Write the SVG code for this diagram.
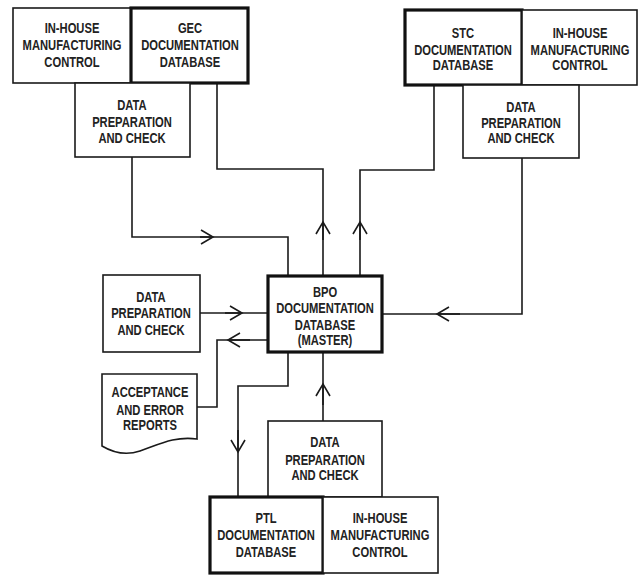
<svg xmlns="http://www.w3.org/2000/svg" width="639" height="575" viewBox="0 0 639 575">
<style>
.box{fill:#fff;stroke:#1a1a1a;stroke-width:1.6}
.thick{fill:#fff;stroke:#111;stroke-width:3.2}
.ln{fill:none;stroke:#1a1a1a;stroke-width:1.6}
text{font-family:"Liberation Sans",Arial,sans-serif;font-size:14px;font-weight:bold;fill:#222;text-anchor:middle}
</style>
<defs>
<marker id="arr" markerUnits="userSpaceOnUse" markerWidth="20" markerHeight="20" refX="0" refY="0" viewBox="-14 -10 16 20" orient="auto" overflow="visible">
<path d="M-12,-7 L0,0 L-12,7" fill="none" stroke="#1a1a1a" stroke-width="1.6"/>
</marker>
</defs>
<rect width="639" height="575" fill="#fff"/>
<g id="connectors">
<path class="ln" d="M132,157 V237 H288 V276"/>
<path class="ln" d="M200,237 H213" marker-end="url(#arr)"/>
<path class="ln" d="M323,276 V169 H217 V83"/>
<path class="ln" d="M323,240 V222" marker-end="url(#arr)"/>
<path class="ln" d="M360,276 V170 H434 V85"/>
<path class="ln" d="M360,240 V222" marker-end="url(#arr)"/>
<path class="ln" d="M522,158 V314 H383"/>
<path class="ln" d="M460,314 H437" marker-end="url(#arr)"/>
<path class="ln" d="M200,313 H268"/>
<path class="ln" d="M225,313 H242" marker-end="url(#arr)"/>
<path class="ln" d="M268,340 H217 V407 H197"/>
<path class="ln" d="M250,340 H228" marker-end="url(#arr)"/>
<path class="ln" d="M288,352 V386 H238 V497"/>
<path class="ln" d="M238,430 V452" marker-end="url(#arr)"/>
<path class="ln" d="M323,421 V352"/>
<path class="ln" d="M323,405 V384" marker-end="url(#arr)"/>
</g>
<g id="inhouse-tl">
<rect class="box" x="13" y="8" width="118" height="75"/>
<g transform="translate(72 0) scale(0.8 1)">
<text x="0" y="33">IN-HOUSE</text>
<text x="0" y="50">MANUFACTURING</text>
<text x="0" y="67">CONTROL</text>
</g>
</g>
<g id="gec">
<rect class="thick" x="131" y="8" width="117" height="75"/>
<g transform="translate(190 0) scale(0.8 1)">
<text x="0" y="33">GEC</text>
<text x="0" y="50">DOCUMENTATION</text>
<text x="0" y="67">DATABASE</text>
</g>
</g>
<g id="dpc-tl">
<rect class="box" x="75" y="83" width="115" height="74"/>
<g transform="translate(132 0) scale(0.8 1)">
<text x="0" y="110">DATA</text>
<text x="0" y="127">PREPARATION</text>
<text x="0" y="143">AND CHECK</text>
</g>
</g>
<g id="stc">
<rect class="thick" x="405" y="10" width="117" height="75"/>
<g transform="translate(463 0) scale(0.8 1)">
<text x="0" y="38">STC</text>
<text x="0" y="55">DOCUMENTATION</text>
<text x="0" y="70">DATABASE</text>
</g>
</g>
<g id="inhouse-tr">
<rect class="box" x="522" y="10" width="115" height="75"/>
<g transform="translate(580 0) scale(0.8 1)">
<text x="0" y="38">IN-HOUSE</text>
<text x="0" y="55">MANUFACTURING</text>
<text x="0" y="70">CONTROL</text>
</g>
</g>
<g id="dpc-tr">
<rect class="box" x="463" y="85" width="116" height="73"/>
<g transform="translate(521 0) scale(0.8 1)">
<text x="0" y="112">DATA</text>
<text x="0" y="128">PREPARATION</text>
<text x="0" y="143">AND CHECK</text>
</g>
</g>
<g id="bpo">
<rect class="thick" x="268" y="276" width="114" height="76"/>
<g transform="translate(325 0) scale(0.8 1)">
<text x="0" y="297">BPO</text>
<text x="0" y="313">DOCUMENTATION</text>
<text x="0" y="330">DATABASE</text>
<text x="0" y="345">(MASTER)</text>
</g>
</g>
<g id="dpc-left">
<rect class="box" x="103" y="275" width="97" height="77"/>
<g transform="translate(151 0) scale(0.8 1)">
<text x="0" y="302">DATA</text>
<text x="0" y="318">PREPARATION</text>
<text x="0" y="335">AND CHECK</text>
</g>
</g>
<g id="reports">
<path class="box" d="M102,374 H197 V439 C175,436 160,444 140,451 C125,456 112,452 102,446 Z"/>
<g transform="translate(150 0) scale(0.8 1)">
<text x="0" y="397">ACCEPTANCE</text>
<text x="0" y="415">AND ERROR</text>
<text x="0" y="430">REPORTS</text>
</g>
</g>
<g id="dpc-bottom">
<rect class="box" x="268" y="421" width="114" height="76"/>
<g transform="translate(325 0) scale(0.8 1)">
<text x="0" y="447">DATA</text>
<text x="0" y="465">PREPARATION</text>
<text x="0" y="480">AND CHECK</text>
</g>
</g>
<g id="ptl">
<rect class="thick" x="210" y="497" width="113" height="76"/>
<g transform="translate(266 0) scale(0.8 1)">
<text x="0" y="523">PTL</text>
<text x="0" y="540">DOCUMENTATION</text>
<text x="0" y="557">DATABASE</text>
</g>
</g>
<g id="inhouse-bottom">
<rect class="box" x="323" y="497" width="115" height="76"/>
<g transform="translate(380 0) scale(0.8 1)">
<text x="0" y="523">IN-HOUSE</text>
<text x="0" y="540">MANUFACTURING</text>
<text x="0" y="557">CONTROL</text>
</g>
</g>
</svg>
